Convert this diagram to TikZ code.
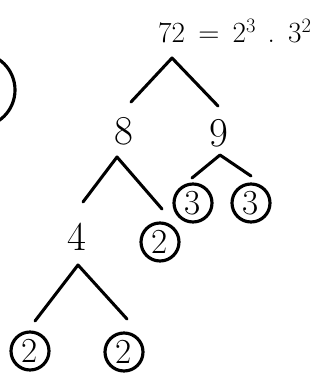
\documentclass[tikz,border=0pt]{standalone}
\usepackage{amsmath}
\usepackage{tikz}

\tikzset{
  num/.style={inner sep=0pt, font=\fontsize{35}{35}\selectfont},
  prime/.style={draw, circle, line width=2.7pt, minimum size=1.14cm, inner sep=0pt, font=\fontsize{30}{30}\selectfont},
  branch/.style={line width=2.6pt, line cap=round, line join=round}
}

\begin{document}
\begin{tikzpicture}[x=0.03cm, y=-0.03cm]
        \useasboundingbox (0,0) rectangle (320,375);

        % The result at the top
        \node[anchor=west, inner sep=0pt, font=\fontsize{25}{25}\selectfont] (res) at (158,31)
          {72\hspace{0.45em}=\hspace{0.45em}2\textsuperscript{3}\hspace{0.4em}.\hspace{0.45em}3\textsuperscript{2}};

        % Piece of a circle on the left edge
        \draw[line width=2.7pt] (-22,90) circle (37);

        % 72 splits into 8 and 9
        \coordinate (a72) at (172,58);
        \coordinate (l72) at (131,102);
        \coordinate (r72) at (218,106);
        \draw[branch] (l72) -- (a72) -- (r72);
        \node[num] (n8) at (124,131) {8};
        \node[num] (n9) at (219,133) {9};

        % 8 splits into 4 and 2
        \coordinate (a8) at (117,157);
        \coordinate (l8) at (83,202);
        \coordinate (r8) at (162,209);
        \draw[branch] (l8) -- (a8) -- (r8);
        \node[num] (n4) at (77,237) {4};
        \node[prime] (p2a) at (160,242) {2};

        % 9 splits into 3 and 3
        \coordinate (a9) at (220,155);
        \coordinate (l9) at (192,178);
        \coordinate (r9) at (251,176);
        \draw[branch] (l9) -- (a9) -- (r9);
        \node[prime] (p3a) at (193,203) {3};
        \node[prime] (p3b) at (251,203) {3};

        % 4 splits into 2 and 2
        \coordinate (a4) at (78,265);
        \coordinate (l4) at (35,321);
        \coordinate (r4) at (127,319);
        \draw[branch] (l4) -- (a4) -- (r4);
        \node[prime] (p2b) at (30,351) {2};
        \node[prime] (p2c) at (124,352) {2};
    \end{tikzpicture}
\end{document}
